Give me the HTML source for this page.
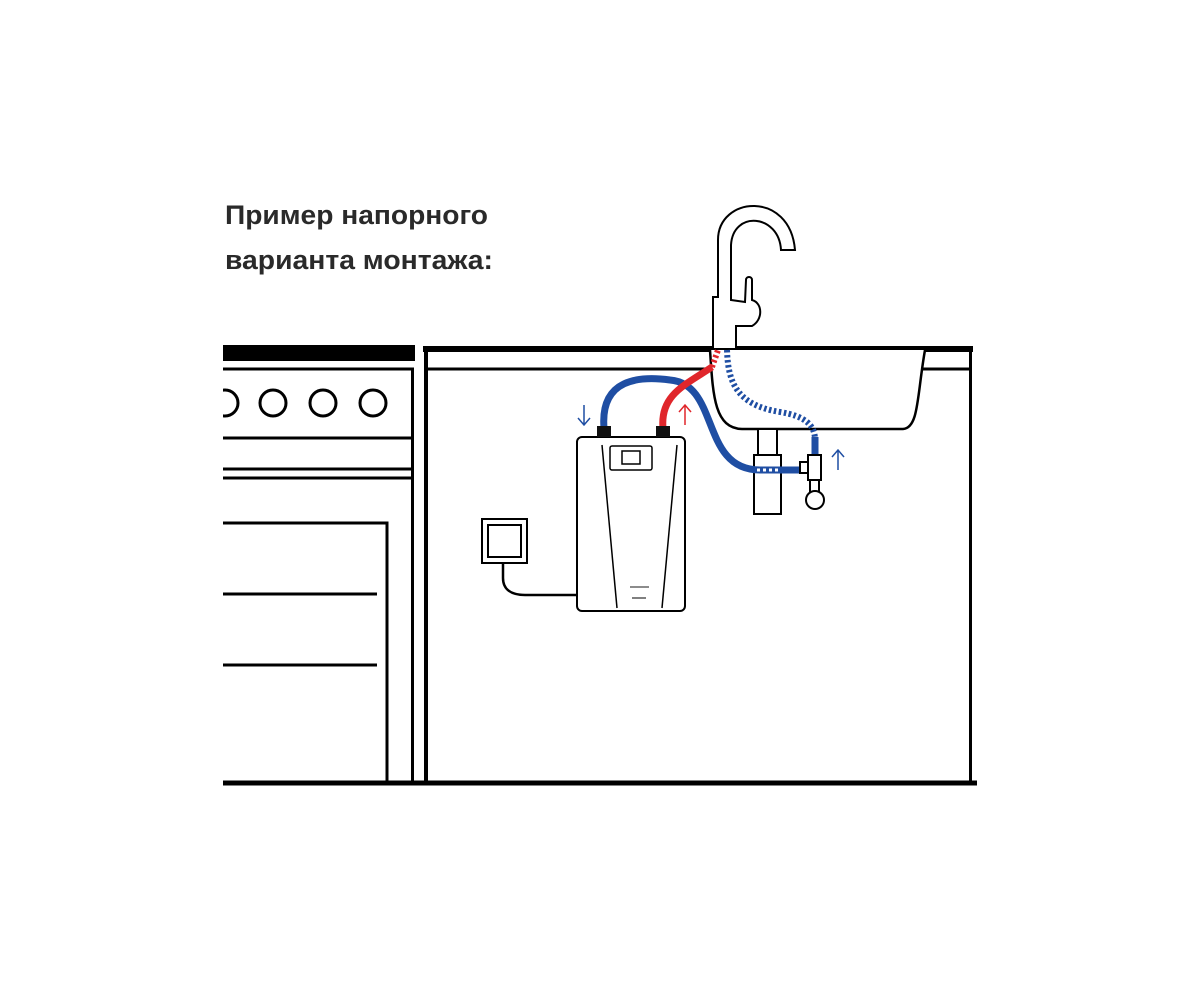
<!DOCTYPE html>
<html><head><meta charset="utf-8"><style>html,body{margin:0;padding:0;background:#fff}svg{display:block}</style></head><body>
<svg width="1200" height="982" viewBox="0 0 1200 982" xmlns="http://www.w3.org/2000/svg">
<defs><clipPath id="c"><rect x="223" y="0" width="1000" height="982"/></clipPath></defs>
<rect width="1200" height="982" fill="#fff"/>
<g font-family="Liberation Sans, DejaVu Sans, sans-serif" font-weight="bold" font-size="27" fill="#2a2a2a">
<text x="225" y="224" textLength="263" lengthAdjust="spacingAndGlyphs">Пример напорного</text>
<text x="225" y="269" textLength="268" lengthAdjust="spacingAndGlyphs">варианта монтажа:</text>
</g>
<g stroke="#000" fill="none" clip-path="url(#c)">
<!-- stove -->
<rect x="223" y="345" width="192" height="16" fill="#000" stroke="none"/>
<line x1="223" y1="369" x2="414" y2="369" stroke-width="3"/>
<line x1="412.5" y1="368" x2="412.5" y2="781" stroke-width="3"/>
<circle cx="225" cy="403" r="13" stroke-width="3"/>
<circle cx="273" cy="403" r="13" stroke-width="3"/>
<circle cx="323" cy="403" r="13" stroke-width="3"/>
<circle cx="373" cy="403" r="13" stroke-width="3"/>
<line x1="223" y1="438" x2="412" y2="438" stroke-width="3"/>
<line x1="223" y1="469" x2="412" y2="469" stroke-width="3"/>
<line x1="223" y1="478" x2="412" y2="478" stroke-width="3"/>
<polyline points="223,523 387,523 387,781" stroke-width="3"/>
<line x1="223" y1="594" x2="377" y2="594" stroke-width="3"/>
<line x1="223" y1="665" x2="377" y2="665" stroke-width="3"/>
<line x1="223" y1="783" x2="977" y2="783" stroke-width="5"/>
<!-- cabinet -->
<line x1="423" y1="349" x2="973" y2="349" stroke-width="6"/>
<line x1="426" y1="349" x2="426" y2="781" stroke-width="4"/>
<line x1="970.5" y1="349" x2="970.5" y2="781" stroke-width="3"/>
<line x1="426" y1="369" x2="712" y2="369" stroke-width="3"/>
<line x1="922" y1="369" x2="970" y2="369" stroke-width="3"/>
<!-- sink -->
<path d="M710,350 C713,395 714,428 742,429 L903,429 C919,428 917,395 925,350" stroke-width="2.5" fill="#fff"/>
<!-- faucet -->
<path d="M713,348 L713,297 L718,297 L718,240 C718,196 790,190 795,250 L781,250 C779,214 733,210 731,245 L731,300 L745,302 L746,280 C746,276 752,276 752,280 L752,300 C763,303 763,320 752,326 L736,326 L736,348" stroke-width="2" fill="#fff"/>
<!-- drain -->
<rect x="758" y="429" width="19" height="26" stroke-width="2" fill="#fff"/>
<rect x="754" y="455" width="27" height="59" stroke-width="2" fill="#fff"/>
<!-- heater -->
<rect x="577" y="437" width="108" height="174" rx="5" stroke-width="2" fill="#fff"/>
<line x1="602" y1="445" x2="617" y2="608" stroke-width="1.5"/>
<line x1="677" y1="445" x2="662" y2="608" stroke-width="1.5"/>
<rect x="610" y="446" width="42" height="24" rx="2" stroke-width="1.5"/>
<rect x="622" y="451" width="18" height="13" stroke-width="1.5"/>
<line x1="632" y1="598" x2="646" y2="598" stroke-width="1"/>
<line x1="630" y1="587" x2="649" y2="587" stroke-width="1.5" stroke="#666"/>
<!-- socket -->
<rect x="482" y="519" width="45" height="44" stroke-width="2" fill="#fff"/>
<rect x="488" y="525" width="33" height="32" stroke-width="2"/>
<path d="M503,563 L503,578 C503,590 512,595 525,595 L577,595" stroke-width="2.5"/>
</g>
<!-- hoses -->
<g fill="none" stroke-linecap="butt">
<path d="M604,428 C600,378 640,376 670,380 C720,384 700,470 760,470 L800,470" stroke="#1f4ea3" stroke-width="7"/>
<line x1="757" y1="470" x2="778" y2="470" stroke="#fff" stroke-width="3" stroke-dasharray="3,3"/>
<path d="M663,428 C660,395 685,385 712,367" stroke="#e0262b" stroke-width="7"/>
<path d="M712,367 L718,350" stroke="#e0262b" stroke-width="6" stroke-dasharray="2.5,2.5"/>
<path d="M727,350 C728,380 735,405 780,412 C805,416 815,425 815,440" stroke="#1f4ea3" stroke-width="6" stroke-dasharray="2.5,2.5"/>
<line x1="815" y1="437" x2="815" y2="465" stroke="#1f4ea3" stroke-width="7"/>
</g>
<rect x="597" y="426" width="14" height="11" fill="#111"/>
<rect x="656" y="426" width="14" height="11" fill="#111"/>
<g stroke="#000" stroke-width="2" fill="#fff">
<rect x="808" y="455" width="13" height="25"/>
<rect x="800" y="462" width="8" height="11"/>
<rect x="810" y="480" width="9" height="12"/>
<circle cx="815" cy="500" r="9"/>
</g>
<g fill="none" stroke-width="1.5">
<path d="M584,405 L584,425 M578,418 L584,425 L590,418" stroke="#1f4ea3"/>
<path d="M685,425 L685,405 M679,412 L685,405 L691,412" stroke="#e0262b"/>
<path d="M838,470 L838,450 M832,457 L838,450 L844,457" stroke="#1f4ea3"/>
</g>
</svg>
</body></html>
